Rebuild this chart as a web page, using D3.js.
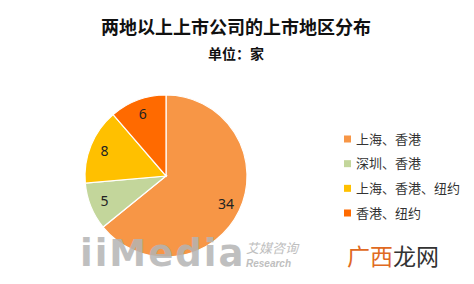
<!DOCTYPE html>
<html><head><meta charset="utf-8">
<script src="https://cdn.jsdelivr.net/npm/d3@7"></script>
<style>body{margin:0;background:#fff}svg{display:block}</style>
</head><body>
<script>
const categories = ["上海、香港", "深圳、香港", "上海、香港、纽约", "香港、纽约"];
const values = [34, 5, 8, 6];
const colors = ["#F79646", "#C3D69B", "#FFC000", "#FF6A00"];
const title = "两地以上上市公司的上市地区分布";
const subtitle = "单位：家";

const W = 474, H = 284;
const font = "'Noto Sans CJK SC', 'Noto Sans', sans-serif";
const svg = d3.select("body").append("svg").attr("width", W).attr("height", H);

svg.append("text").attr("x", 236).attr("y", 34).attr("text-anchor", "middle")
  .attr("font-family", font).attr("font-weight", "bold").attr("font-size", 18)
  .attr("fill", "#111").text(title);
svg.append("text").attr("x", 236).attr("y", 59).attr("text-anchor", "middle")
  .attr("font-family", font).attr("font-weight", "bold").attr("font-size", 14)
  .attr("fill", "#111").text(subtitle);

const cx = 166, cy = 176, r = 81;
const pie = d3.pie().sort(null).value(d => d)(values);
const arc = d3.arc().innerRadius(0).outerRadius(r);
const labelArc = d3.arc().innerRadius(r * 0.82).outerRadius(r * 0.82);
const g = svg.append("g").attr("transform", `translate(${cx},${cy})`);
g.selectAll("path").data(pie).join("path")
  .attr("d", arc).attr("fill", (d, i) => colors[i])
  .attr("stroke", "#fff").attr("stroke-width", 1.2);

// watermark
const wm = svg.append("g").attr("opacity", 0.85);
wm.append("text").attr("x", 80).attr("y", 266)
  .attr("font-family", "'DejaVu Sans', sans-serif").attr("font-weight", "bold")
  .attr("font-size", 37).attr("fill", "#b4b4b4").attr("letter-spacing", 2).text("iiMedia");
wm.append("text").attr("x", 246).attr("y", 253)
  .attr("font-family", font).attr("font-style", "italic").attr("font-size", 13)
  .attr("fill", "#b4b4b4").text("艾媒咨询");
wm.append("text").attr("x", 246).attr("y", 267)
  .attr("font-family", "'Liberation Sans', sans-serif").attr("font-style", "italic").attr("font-weight", "bold")
  .attr("font-size", 10).attr("fill", "#b4b4b4").text("Research");

g.selectAll("text.lbl").data(pie).join("text").attr("class", "lbl")
  .attr("transform", d => `translate(${labelArc.centroid(d)})`)
  .attr("text-anchor", "middle").attr("dy", "0.35em")
  .attr("font-family", "'Noto Sans', sans-serif").attr("font-size", 14)
  .attr("fill", "#222").text(d => d.data);

const leg = svg.append("g");
const rowY = d3.scaleLinear().domain([0, 3]).range([139, 213]);
categories.forEach((c, i) => {
  leg.append("rect").attr("x", 344).attr("y", rowY(i) - 3.5).attr("width", 7).attr("height", 7)
    .attr("fill", colors[i]);
  leg.append("text").attr("x", 356).attr("y", rowY(i)).attr("dy", "0.36em")
    .attr("font-family", font).attr("font-size", 13).attr("fill", "#333").text(c);
});

const brand = svg.append("text").attr("x", 347).attr("y", 265)
  .attr("font-family", font).attr("font-size", 23);
brand.append("tspan").attr("fill", "#E06A22").text("广西");
brand.append("tspan").attr("fill", "#333").text("龙网");
</script>
</body></html>
